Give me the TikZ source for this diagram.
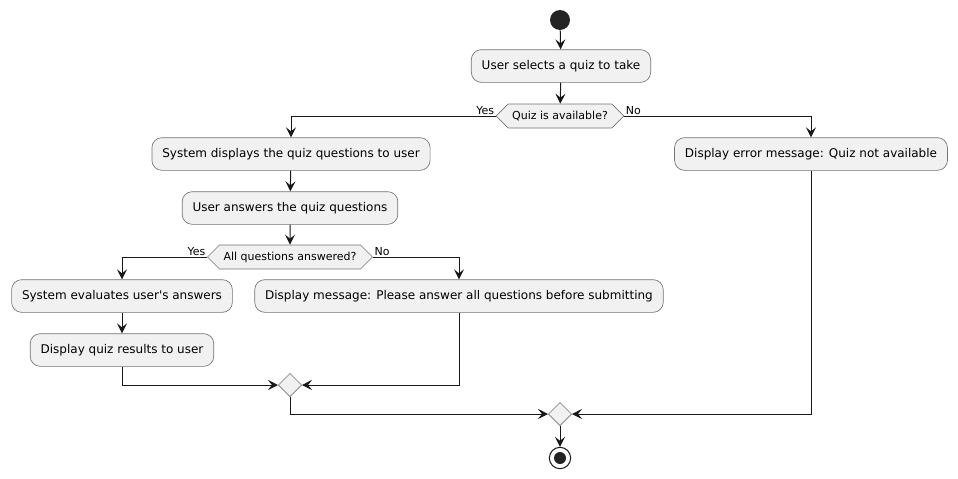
\documentclass[tikz,border=0pt]{standalone}
\usepackage{fontspec}
\setmainfont{DejaVu Sans}
\usetikzlibrary{shapes.symbols,shapes.geometric,arrows.meta}
\definecolor{boxfill}{HTML}{F1F1F1}
\definecolor{ink}{HTML}{181818}
\begin{document}
\begin{tikzpicture}[x=0.75pt,y=-0.75pt,
  act/.style={draw=ink!60, line width=0.5pt, fill=boxfill, rounded corners=7.5pt,
    minimum height=24.5pt, inner xsep=7.8pt, font=\fontsize{9pt}{11pt}\selectfont},
  cond/.style={draw=ink!60, line width=0.5pt, fill=boxfill, signal, signal to=west and east,
    signal pointer angle=90, minimum height=18pt, inner xsep=3pt, inner ysep=0pt,
    font=\fontsize{8.25pt}{10pt}\selectfont},
  merge/.style={draw=ink!60, line width=0.5pt, fill=boxfill, diamond, minimum size=17.5pt, inner sep=0pt},
  lbl/.style={font=\fontsize{8.25pt}{10pt}\selectfont, inner sep=1pt},
  flow/.style={draw=ink, line width=0.75pt, -{Stealth[length=7.5pt,width=7.5pt,inset=3pt]}},
  line/.style={draw=ink, line width=0.75pt}
]
\useasboundingbox (0,0) rectangle (958,479);
\node[circle, fill=ink!95, minimum size=15pt, inner sep=0pt] (start) at (560,20) {};
\node[act] (a1) at (561,66) {User selects a quiz to take};
\node[cond] (d1) at (560,116) {Quiz is available?};
\node[act] (b1) at (291,154) {System displays the quiz questions to user};
\node[act] (b2) at (290,208) {User answers the quiz questions};
\node[cond] (d2) at (290,257) {All questions answered?};
\node[act] (b3) at (122,296) {System evaluates user\textquotesingle s answers};
\node[act] (b4) at (122,350) {Display quiz results to user};
\node[act] (b5) at (459,296) {Display message: Please answer all questions before submitting};
\node[merge] (m1) at (290,385) {};
\node[act] (e1) at (811,154) {Display error message: Quiz not available};
\node[merge] (m2) at (560,414) {};
\node[circle, draw=ink, line width=0.75pt, fill=white, minimum size=16pt, inner sep=0pt,
  path picture={\fill[ink!95] (path picture bounding box.center) circle (4.5pt);}] (end) at (560,458) {};

\draw[flow] (start) -- (a1);
\draw[flow] (a1) -- (d1);
\draw[flow] (d1.west) -| (b1.north);
\draw[flow] (d1.east) -| (e1.north);
\node[lbl, anchor=south east] (y1) at (d1.west) {Yes};
\node[lbl, anchor=south west] (n1) at (d1.east) {No};
\draw[flow] (b1) -- (b2);
\draw[flow] (b2) -- (d2);
\draw[flow] (d2.west) -| (b3.north);
\draw[flow] (d2.east) -| (b5.north);
\node[lbl, anchor=south east] (y2) at (d2.west) {Yes};
\node[lbl, anchor=south west] (n2) at (d2.east) {No};
\draw[flow] (b3) -- (b4);
\draw[flow] (b4.south) |- (m1.west);
\draw[flow] (b5.south) |- (m1.east);
\draw[flow] (m1.south) |- (m2.west);
\draw[flow] (e1.south) |- (m2.east);
\draw[flow] (m2) -- (end);
\end{tikzpicture}
\end{document}
